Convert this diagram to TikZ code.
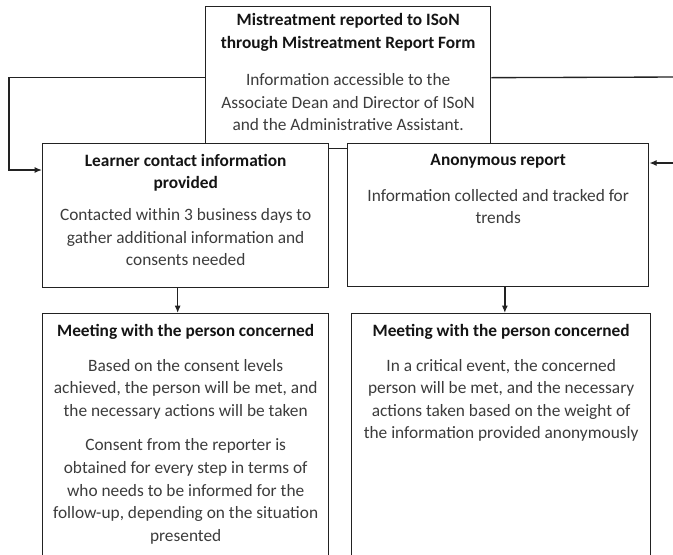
\documentclass[tikz,border=0pt]{standalone}
\usepackage{fontspec}
\setmainfont{Carlito}
\usepackage{tikz}
\usetikzlibrary{arrows.meta}
\usetikzlibrary{positioning}
\usetikzlibrary{calc}
\definecolor{frm}{HTML}{222222}
\definecolor{ttl}{HTML}{141414}
\definecolor{txt}{HTML}{3C3C3C}
\newcommand{\boxhead}[1]{{\bfseries\color{ttl}#1}}

\begin{document}
\begin{tikzpicture}[
  x=0.75pt, y=-0.75pt,
  dep/.style={
    -{Latex[length=5.5pt,width=4.5pt]}, line width=1pt, draw=frm
  },
  lnk/.style={
    line width=1pt, draw=frm
  },
  box/.style 2 args={
    draw=frm,
    fill=white,
    line width=1pt,
    anchor=north west,
    inner sep=0pt,
    minimum width=#1*0.75pt,
    minimum height=#2*0.75pt},
  lbl/.style={
    align=center,
    inner sep=0pt,
    text=txt,
    font=\fontsize{13}{16.9}\selectfont},
]

  \useasboundingbox (0,0) rectangle (673,554);
  \clip (0,0) rectangle (673,554);

        % report form
        \node[box={285}{142}] (rep) at (205,6) {};
        \node[lbl, below=5.5pt of rep.north] (rep_t)
            {\boxhead{Mistreatment reported to ISoN}\\
             \boxhead{through Mistreatment Report Form}\\[11pt]
             Information accessible to the\\
             Associate Dean and Director of ISoN\\
             and the Administrative Assistant.};

        % two kinds of report
        \node[box={286}{144}] (lrn) at (42,143) {};
        \node[lbl, below=8pt of lrn.north] (lrn_t)
            {\boxhead{Learner contact information}\\
             \boxhead{provided}\\[7pt]
             Contacted within 3 business days to\\
             gather additional information and\\
             consents needed};

        \node[box={301}{143}] (ano) at (347,143) {};
        \node[lbl, below=8pt of ano.north] (ano_t)
            {\boxhead{Anonymous report}\\[10pt]
             Information collected and tracked for\\
             trends};

        % meetings
        \node[box={286}{260}] (mtl) at (42,313) {};
        \node[lbl, below=8pt of mtl.north] (mtl_t)
            {\boxhead{Meeting with the person concerned}\\[9.5pt]
             Based on the consent levels\\
             achieved, the person will be met, and\\
             the necessary actions will be taken\\[9pt]
             Consent from the reporter is\\
             obtained for every step in terms of\\
             who needs to be informed for the\\
             follow-up, depending on the situation\\
             presented};

        \node[box={299}{260}] (mtr) at (351,313) {};
        \node[lbl, below=8pt of mtr.north] (mtr_t)
            {\boxhead{Meeting with the person concerned}\\[9.5pt]
             In a critical event, the concerned\\
             person will be met, and the necessary\\
             actions taken based on the weight of\\
             the information provided anonymously};

        % connectors
        \coordinate (lc) at (9,170);
        \coordinate (rc) at (680,77);
        \coordinate (ra) at (680,163);
        \coordinate[xshift=-6pt] (ld) at (lrn.south);
        \coordinate[xshift=5pt] (ad) at (ano.south);

        \draw[dep] (rep.west) -| (lc) -- (lc -| lrn.west);
        \draw[lnk] (rep.east) -- (rc);
        \draw[dep] (ra) -- (ra -| ano.east);

        \draw[dep] (ld) -- (ld |- mtl.north);
        \draw[dep] (ad) -- (ad |- mtr.north);

\end{tikzpicture}
\end{document}
